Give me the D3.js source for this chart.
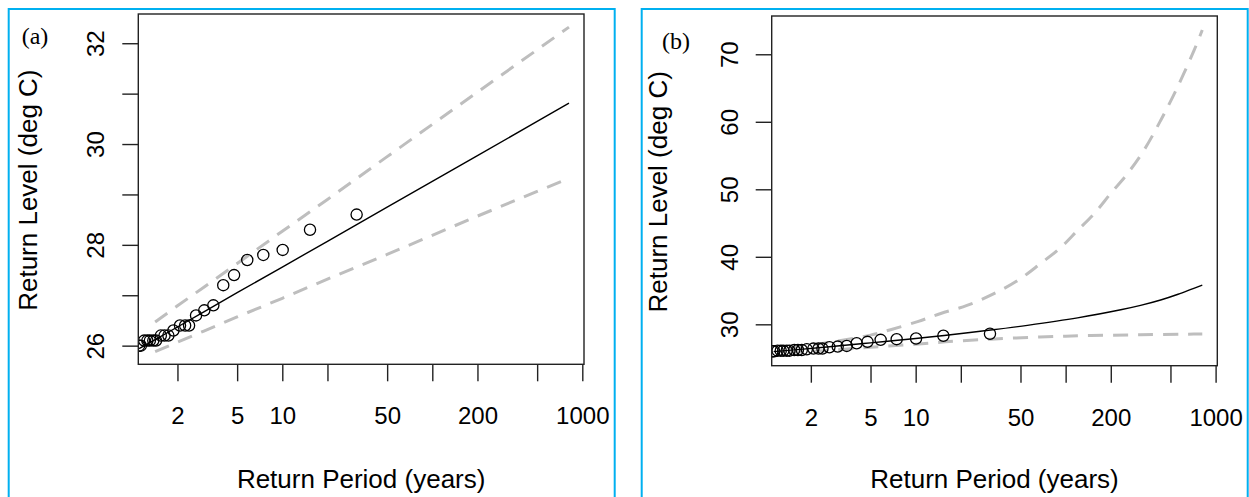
<!DOCTYPE html>
<html><head><meta charset="utf-8">
<script src="https://cdn.jsdelivr.net/npm/d3@7"></script>
<style>html,body{margin:0;padding:0;background:#fff;overflow:hidden}</style>
</head><body>
<svg id="chart" width="1249" height="497"></svg>
<script>
// ---------- data ----------
// observed annual maxima (return period in years, level in deg C) - shared by both panels
const obsPeriod = [1.11, 1.14, 1.20, 1.26, 1.31, 1.38, 1.44, 1.55, 1.64, 1.74, 1.88, 2.08, 2.25, 2.39, 2.66, 3.02, 3.47, 4.04, 4.77, 5.84, 7.47, 10.06, 15.3, 31.3];
const obsLevel  = [26.0, 26.0, 26.1, 26.1, 26.1, 26.1, 26.1, 26.2, 26.2, 26.2, 26.3, 26.4, 26.4, 26.4, 26.6, 26.7, 26.8, 27.2, 27.4, 27.7, 27.8, 27.9, 28.3, 28.6];

// panel (a): fitted return levels and confidence bounds
const fitPeriodA   = [1.11, 1.42, 2, 3, 5, 10, 20, 50, 100, 200, 500, 815];
const fitLevelA    = [25.94, 26.12, 26.37, 26.67, 27.05, 27.56, 28.07, 28.75, 29.26, 29.77, 30.45, 30.81];
const ciPeriodA    = [1.42, 2, 3, 5, 10, 20, 50, 100, 200, 500, 815];
const upperLevelA  = [26.47, 26.79, 27.16, 27.63, 28.27, 28.90, 29.75, 30.39, 31.03, 31.87, 32.32];
const lowerLevelA  = [25.88, 26.07, 26.29, 26.57, 26.94, 27.32, 27.81, 28.19, 28.57, 29.06, 29.32];

// panel (b)
const fitPeriodB   = [1.13, 2.45, 5.0, 10, 15.5, 31.6, 55.6, 120, 233, 316, 430, 562, 708, 815];
const fitLevelB    = [25.95, 26.6, 27.25, 27.9, 28.35, 29.15, 29.85, 30.95, 32.15, 32.8, 33.6, 34.45, 35.3, 35.8];
const upperPeriodB = [1.42, 2.44, 5.0, 6.8, 10.3, 14.7, 22, 33, 48, 68, 93, 120, 155, 200, 258, 333, 430, 556, 716, 815];
const upperLevelB  = [26.5, 27.2, 28.4, 29.2, 30.4, 31.6, 32.8, 34.5, 36.5, 39.0, 41.4, 43.9, 46.4, 49.4, 52.3, 55.8, 60.2, 65.1, 70.5, 73.6];
const lowerPeriodB = [1.42, 2.44, 5, 10, 15.8, 31.6, 100, 316, 716, 815];
const lowerLevelB  = [25.8, 26.1, 26.6, 27.05, 27.4, 27.8, 28.25, 28.45, 28.55, 28.56];

// ticks
const xTickValues = [2, 5, 10, 20, 50, 100, 200, 500, 1000];
const xTickLabels = ["2", "5", "10", "", "50", "", "200", "", "1000"];
const yTicksA = [26, 27, 28, 29, 30, 31, 32];
const yTickLabelsA = ["26", "", "28", "", "30", "", "32"];
const yTicksB = [30, 40, 50, 60, 70];
const yTickLabelsB = ["30", "40", "50", "60", "70"];

const panelLabels = ["(a)", "(b)"];
const xTitle = "Return Period (years)";
const yTitle = "Return Level (deg C)";

// ---------- layout ----------
const FONT = "'Liberation Sans', Arial, sans-serif";
const SERIF = "'Liberation Serif', 'Times New Roman', serif";
const svg = d3.select("#chart");

const panels = [
  { label: panelLabels[0], frameX: 8.7, box: {l: 138.3, t: 14, r: 584, b: 364.3},
    yDomain: [25.63, 32.58], yTicks: yTicksA, yLabels: yTickLabelsA,
    labelPos: [21.7, 44], yTitleX: 37,
    fit: [fitPeriodA, fitLevelA], upper: [ciPeriodA, upperLevelA], lower: [ciPeriodA, lowerLevelA],
    curve: d3.curveLinear },
  { label: panelLabels[1], frameX: 641.7, box: {l: 771.7, t: 16, r: 1217.3, b: 365.7},
    yDomain: [23.87, 75.67], yTicks: yTicksB, yLabels: yTickLabelsB,
    labelPos: [662, 49], yTitleX: 667,
    fit: [fitPeriodB, fitLevelB], upper: [upperPeriodB, upperLevelB], lower: [lowerPeriodB, lowerLevelB],
    curve: d3.curveCatmullRom.alpha(0.5) }
];

panels.forEach((p, pi) => {
  const g = svg.append("g");
  // blue frame
  g.append("rect").attr("x", p.frameX).attr("y", 9).attr("width", 606).attr("height", 600)
    .attr("fill", "none").attr("stroke", "#00B0F0").attr("stroke-width", 2);

  const x = d3.scaleLog().domain([1.0965, 1026.4]).range([p.box.l, p.box.r]);
  const y = d3.scaleLinear().domain(p.yDomain).range([p.box.b, p.box.t]);

  const clipId = "clip" + pi;
  svg.append("defs").append("clipPath").attr("id", clipId)
    .append("rect").attr("x", p.box.l).attr("y", p.box.t)
    .attr("width", p.box.r - p.box.l).attr("height", p.box.b - p.box.t);

  const plot = g.append("g").attr("clip-path", `url(#${clipId})`);
  const line = d3.line().x(d => x(d[0])).y(d => y(d[1])).curve(p.curve);
  const pts = (T, V) => T.map((t, i) => [t, V[i]]);

  // confidence bounds
  [p.upper, p.lower].forEach(s => {
    plot.append("path").attr("d", line(pts(s[0], s[1])))
      .attr("fill", "none").attr("stroke", "#BEBEBE").attr("stroke-width", 3)
      .attr("stroke-dasharray", "15,10");
  });
  // fitted line
  plot.append("path").attr("d", line(pts(p.fit[0], p.fit[1])))
    .attr("fill", "none").attr("stroke", "#000").attr("stroke-width", 1.4);
  // observed points
  plot.selectAll("circle").data(pts(obsPeriod, obsLevel)).join("circle")
    .attr("cx", d => x(d[0])).attr("cy", d => y(d[1])).attr("r", 5.6)
    .attr("fill", "none").attr("stroke", "#000").attr("stroke-width", 1.3);

  // box
  g.append("rect").attr("x", p.box.l).attr("y", p.box.t)
    .attr("width", p.box.r - p.box.l).attr("height", p.box.b - p.box.t)
    .attr("fill", "none").attr("stroke", "#222").attr("stroke-width", 1.4);

  // x axis
  const xa = g.append("g").attr("transform", `translate(0,${p.box.b})`)
    .call(d3.axisBottom(x).tickValues(xTickValues).tickFormat((d, i) => xTickLabels[i])
      .tickSize(17).tickSizeOuter(0).tickPadding(26));
  xa.select(".domain").remove();
  xa.selectAll("line").attr("stroke", "#222").attr("stroke-width", 1.4);
  xa.selectAll("text").attr("font-family", FONT).attr("font-size", 24).attr("fill", "#000");

  // y axis
  const ya = g.append("g").attr("transform", `translate(${p.box.l},0)`)
    .call(d3.axisLeft(y).tickValues(p.yTicks).tickFormat((d, i) => p.yLabels[i])
      .tickSize(16).tickSizeOuter(0));
  ya.select(".domain").remove();
  ya.selectAll("line").attr("stroke", "#222").attr("stroke-width", 1.4);
  ya.selectAll("text").attr("x", null).attr("dy", null)
    .attr("transform", "translate(-34,0) rotate(-90)")
    .attr("text-anchor", "middle")
    .attr("font-family", FONT).attr("font-size", 24).attr("fill", "#000");

  // titles
  g.append("text").attr("x", (p.box.l + p.box.r) / 2).attr("y", 488)
    .attr("text-anchor", "middle").attr("font-family", FONT).attr("font-size", 26)
    .text(xTitle);
  const cy = (p.box.t + p.box.b) / 2 + 1;
  g.append("text").attr("transform", `translate(${p.yTitleX},${cy}) rotate(-90)`)
    .attr("text-anchor", "middle").attr("font-family", FONT).attr("font-size", 26)
    .text(yTitle);
  // panel label
  g.append("text").attr("x", p.labelPos[0]).attr("y", p.labelPos[1])
    .attr("font-family", SERIF).attr("font-size", 24).text(p.label);
});
</script>
</body></html>
